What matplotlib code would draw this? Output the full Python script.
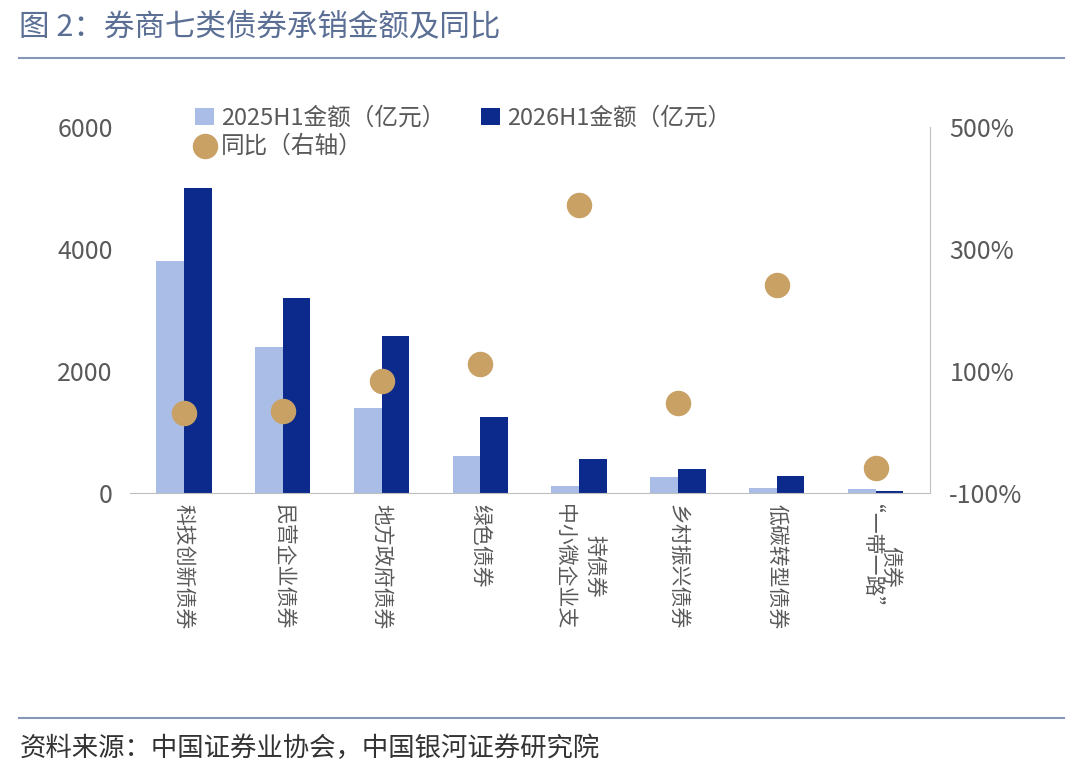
import matplotlib
matplotlib.use('Agg')
import matplotlib.pyplot as plt
import numpy as np

plt.rcParams['font.family'] = ['Noto Sans CJK SC', 'DejaVu Sans']

categories = ['科技创新债券', '民营企业债券', '地方政府债券', '绿色债券',
              '持债券\n中小微企业支', '乡村振兴债券', '低碳转型债券', '债券\n“一带一路”']
amt_2025 = [3800, 2400, 1400, 600, 120, 260, 80, 70]
amt_2026 = [5000, 3200, 2580, 1250, 560, 390, 280, 30]
yoy = [31, 34, 84, 111, 372, 48, 241, -59]

c_light = '#a9bde6'
c_dark = '#0b2a8c'
c_dot = '#c9a165'
c_grey = '#595959'

fig = plt.figure(figsize=(10.8, 7.68), dpi=100)
ax = fig.add_axes([0.12, 0.358, 0.741, 0.477])
x = np.arange(len(categories))
w = 0.28
ax.bar(x - w / 2, amt_2025, w, color=c_light, label='2025H1金额（亿元）')
ax.bar(x + w / 2, amt_2026, w, color=c_dark, label='2026H1金额（亿元）')
ax.set_ylim(0, 6000)
ax.set_yticks([0, 2000, 4000, 6000])
ax.set_xlim(-0.55, len(categories) - 0.45)
ax.set_xticks(x)
ax.set_xticklabels(categories, rotation=-90, va='top', ha='center', fontsize=15,
                   color=c_grey, linespacing=1.5)
ax.tick_params(axis='y', labelsize=18, colors=c_grey, length=0, pad=12)
ax.tick_params(axis='x', length=0, pad=8)
for s in ['left', 'top', 'right']:
    ax.spines[s].set_visible(False)
ax.spines['bottom'].set_color('#bfbfbf')

ax2 = ax.twinx()
ax2.scatter(x, yoy, s=300, color=c_dot, zorder=3, label='同比（右轴）')
ax2.set_ylim(-100, 500)
ax2.set_yticks([-100, 100, 300, 500])
ax2.set_yticklabels(['-100%', '100%', '300%', '500%'])
ax2.tick_params(axis='y', labelsize=18, colors=c_grey, length=0, pad=14)
for s in ['left', 'top', 'bottom']:
    ax2.spines[s].set_visible(False)
ax2.spines['right'].set_color('#bfbfbf')

h1, l1 = ax.get_legend_handles_labels()
h2, l2 = ax2.get_legend_handles_labels()
# column-wise fill: 2025 / 同比 in col 1, 2026 in col 2
ax.legend([h1[0], h2[0], h1[1]], [l1[0], l2[0], l1[1]], ncol=2, loc='upper left',
          bbox_to_anchor=(0.07, 1.08), frameon=False, fontsize=17, labelcolor=c_grey,
          handlelength=0.8, handletextpad=0.3, columnspacing=1.5, borderaxespad=0,
          labelspacing=0.2)

fig.text(0.018, 0.965, '图 2：券商七类债券承销金额及同比', fontsize=22, color='#5b6f95', va='center')
fig.add_artist(plt.Line2D([0.018, 0.985], [0.925, 0.925], color='#8797b5', lw=1.5))
fig.add_artist(plt.Line2D([0.018, 0.985], [0.065, 0.065], color='#8797b5', lw=1.5))
fig.text(0.018, 0.025, '资料来源：中国证券业协会，中国银河证券研究院', fontsize=19,
         color='#333333', style='italic', va='center')

fig.savefig('out.png', dpi=100)
